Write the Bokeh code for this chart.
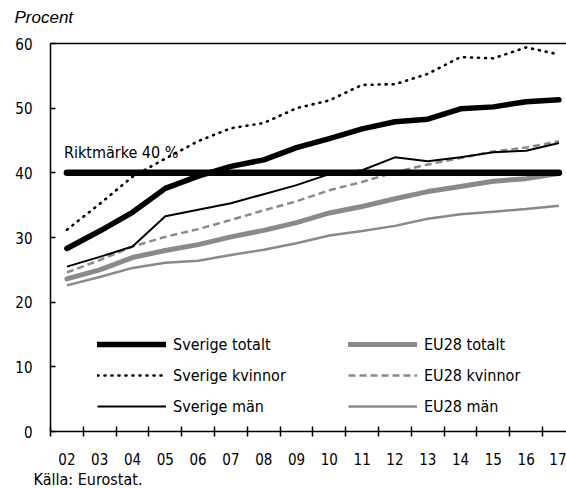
from bokeh.plotting import figure
from bokeh.models import FixedTicker, LinearAxis, Legend, LegendItem, Label, Range1d, Title
from bokeh.embed import file_html
from bokeh.resources import INLINE

years = ["02", "03", "04", "05", "06", "07", "08", "09", "10", "11", "12", "13", "14", "15", "16", "17"]
sverige_totalt = [28.3, 31.0, 33.9, 37.6, 39.5, 41.0, 42.0, 43.9, 45.3, 46.8, 47.9, 48.3, 49.9, 50.2, 51.0, 51.3]
sverige_kvinnor = [31.2, 35.2, 39.4, 42.2, 44.9, 46.9, 47.7, 50.0, 51.2, 53.6, 53.7, 55.3, 57.9, 57.7, 59.4, 58.3]
sverige_man = [25.5, 27.0, 28.6, 33.3, 34.3, 35.3, 36.7, 38.1, 39.8, 40.4, 42.4, 41.8, 42.4, 43.2, 43.4, 44.6]
eu28_totalt = [23.6, 25.0, 26.9, 28.0, 28.9, 30.1, 31.1, 32.3, 33.8, 34.8, 36.0, 37.1, 37.9, 38.7, 39.1, 39.9]
eu28_kvinnor = [24.6, 26.5, 28.6, 30.1, 31.3, 32.7, 34.2, 35.6, 37.3, 38.6, 40.1, 41.3, 42.3, 43.3, 43.9, 44.9]
eu28_man = [22.6, 23.9, 25.3, 26.1, 26.4, 27.3, 28.1, 29.1, 30.3, 31.0, 31.8, 32.9, 33.6, 34.0, 34.4, 34.9]
y_ticks = [0, 10, 20, 30, 40, 50, 60]
target = 40
target_label = "Riktmärke 40 %"

x = list(range(len(years)))
FONT = "DejaVu Sans Condensed, Roboto, sans-serif"
GREY = "#8a8a8a"

p = figure(width=566, height=488, output_backend="svg", toolbar_location=None,
           x_range=Range1d(-0.5, len(years) - 0.77), y_range=Range1d(0, 60),
           min_border_left=50, min_border_right=0, min_border_top=43, min_border_bottom=55)
p.outline_line_color = None
p.xgrid.visible = False
p.ygrid.visible = False
p.background_fill_color = "white"
p.border_fill_color = "white"

p.title.text = "Procent"
p.title.align = "left"
p.title.vertical_align = "bottom"
p.title.offset = -36
p.title.text_font = "Liberation Sans, Arial, sans-serif"
p.title.text_font_style = "italic"
p.title.text_font_size = "17px"
p.title.text_color = "black"
p.title.standoff = 10

# axes
xa = p.xaxis[0]
xa.ticker = FixedTicker(ticks=x, minor_ticks=[i - 0.5 for i in range(len(years) + 1)])
xa.major_label_overrides = {i: years[i] for i in x}
xa.major_tick_line_color = None
xa.minor_tick_in = 5
xa.minor_tick_out = 5
xa.minor_tick_line_width = 1.5
xa.minor_tick_line_color = "black"
xa.axis_line_width = 1.5
xa.axis_line_color = "black"
xa.major_label_text_font = FONT
xa.major_label_text_font_size = "15px"
xa.major_label_text_color = "black"
xa.major_label_standoff = 15

ya = p.yaxis[0]
ya.ticker = FixedTicker(ticks=y_ticks)
ya.major_tick_in = 5
ya.major_tick_out = 0
ya.major_tick_line_width = 1.5
ya.minor_tick_line_color = None
ya.axis_line_width = 1.5
ya.major_label_text_font = FONT
ya.major_label_text_font_size = "15px"
ya.major_label_text_color = "black"
ya.major_label_standoff = 18

top = LinearAxis(major_tick_line_color=None, minor_tick_line_color=None,
                 major_label_text_font_size="0px", axis_line_width=1.5,
                 axis_line_color="black", ticker=FixedTicker(ticks=[]),
                 axis_label=" ", axis_label_text_font_size="1px", axis_label_standoff=8)
p.add_layout(top, "above")

# series
r_eu_m = p.line(x, eu28_man, line_color=GREY, line_width=2.5)
r_eu_k = p.line(x, eu28_kvinnor, line_color=GREY, line_width=2.5, line_dash="7 4")
r_eu_t = p.line(x, eu28_totalt, line_color=GREY, line_width=5, line_cap="round", line_join="round")
r_se_m = p.line(x, sverige_man, line_color="black", line_width=2)
r_se_k = p.line(x, sverige_kvinnor, line_color="black", line_width=2.6, line_dash="1 6", line_cap="round")
r_se_t = p.line(x, sverige_totalt, line_color="black", line_width=5.5, line_cap="round", line_join="round")
p.line([x[0], x[-1]], [target, target], line_color="black", line_width=6.5, line_cap="round")

p.add_layout(Label(x=x[0], y=target, text=target_label, x_offset=-3, y_offset=20,
                   text_font=FONT, text_font_size="16px", text_color="black",
                   text_baseline="alphabetic"))

def mk_legend(items, loc):
    lg = Legend(items=items, location=loc, orientation="vertical",
                glyph_width=69, glyph_height=22, label_height=22, spacing=9,
                label_standoff=7, padding=0, margin=0,
                label_text_font=FONT, label_text_font_size="16px", label_text_color="black",
                border_line_color=None, background_fill_alpha=0)
    p.add_layout(lg, "center")

mk_legend([LegendItem(label="Sverige totalt", renderers=[r_se_t]),
           LegendItem(label="Sverige kvinnor", renderers=[r_se_k]),
           LegendItem(label="Sverige män", renderers=[r_se_m])], (47, 14))
mk_legend([LegendItem(label="EU28 totalt", renderers=[r_eu_t]),
           LegendItem(label="EU28 kvinnor", renderers=[r_eu_k]),
           LegendItem(label="EU28 män", renderers=[r_eu_m])], (298, 14))

src = Title(text="Källa: Eurostat.", align="left", offset=-17, standoff=0,
            text_font=FONT, text_font_size="16px", text_font_style="normal", text_color="black")
p.add_layout(src, "below")

open("out.html", "w").write(file_html(p, INLINE))
